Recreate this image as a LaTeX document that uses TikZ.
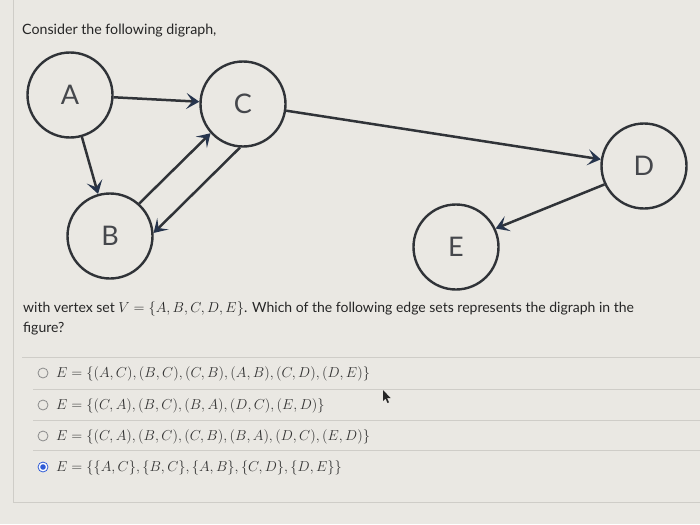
\documentclass[tikz,border=0pt]{standalone}
\usepackage{fontspec}
\setmainfont{Lato}
\usetikzlibrary{arrows.meta}
\definecolor{bg}{HTML}{EAE8E3}
\definecolor{edge}{HTML}{303338}
\definecolor{tip}{HTML}{26344C}
\definecolor{rule}{HTML}{CFCDC8}
\definecolor{radio}{HTML}{8A8A8A}
\definecolor{sel}{HTML}{2F5BD6}
\begin{document}
\begin{tikzpicture}[x=1pt,y=-1pt,
  vert/.style={circle,draw=edge,line width=2.4pt,minimum size=85pt,inner sep=0pt,font=\fontsize{27}{27}\selectfont,text=edge!90},
  arc/.style={draw=edge,line width=2.5pt,-{Stealth[length=13pt,width=16pt,inset=6pt,color=tip]}},
  txt/.style={anchor=base west,inner sep=0pt,font=\fontsize{14.2}{16}\selectfont,text=black!85},
  opt/.style={anchor=base west,inner sep=0pt,font=\fontsize{14.5}{16}\selectfont,text=black!80},
  rad/.style={circle,draw=radio,line width=0.8pt,minimum size=10pt,inner sep=0pt},
  sepline/.style={draw=rule,line width=0.8pt}]
\fill[bg] (0,0) rectangle (700,524);
\useasboundingbox (0,0) rectangle (700,524);
\draw[draw=rule,line width=1pt] (13,0) -- (13,502) -- (700,502);
% texts
\node[txt] (t1) at (22,35) {Consider the following digraph,};
\node[txt,font=\fontsize{14}{16}\selectfont] (t2) at (23,312) {with vertex set $V=\{A,B,C,D,E\}$. Which of the following edge sets represents the digraph in the};
\node[txt,font=\fontsize{14}{16}\selectfont] (t3) at (23,332) {figure?};
% graph
\node[vert] (A) at (70,95) {A};
\node[vert] (C) at (243,104) {C};
\node[vert] (B) at (110,236) {B};
\node[vert] (D) at (644,166) {D};
\node[vert] (E) at (456,247) {E};
\draw[arc] (A) -- (C);
\draw[arc] (A) -- (B);
\draw[arc] (B.48) -- (C.222);
\draw[arc] (C.266) -- (B.4);
\draw[arc] (C) -- (D);
\draw[arc] (D.205) -- (E.25);
% options
\draw[sepline] (22,357) -- (700,357);
\draw[sepline] (33,389) -- (700,389);
\draw[sepline] (33,420) -- (700,420);
\draw[sepline] (33,450) -- (700,450);
\node[rad] (r1) at (43,373) {};
\node[rad] (r2) at (43,405) {};
\node[rad] (r3) at (43,436) {};
\node[rad,draw=sel,fill=white] (r4) at (43,467) {};
\fill[sel] (r4.center) circle (2.8pt);
\node[opt] (o1) at (56,377) {$E=\{(A,C),(B,C),(C,B),(A,B),(C,D),(D,E)\}$};
\node[opt] (o2) at (56,409) {$E=\{(C,A),(B,C),(B,A),(D,C),(E,D)\}$};
\node[opt] (o3) at (56,440) {$E=\{(C,A),(B,C),(C,B),(B,A),(D,C),(E,D)\}$};
\node[opt] (o4) at (56,471) {$E=\{\{A,C\},\{B,C\},\{A,B\},\{C,D\},\{D,E\}\}$};
% cursor
\fill[black!85] (383,390) -- (383,401) -- (385.5,398.5) -- (387.5,403) -- (389,402.3) -- (387,398) -- (390.5,398) -- cycle;
\end{tikzpicture}
\end{document}
